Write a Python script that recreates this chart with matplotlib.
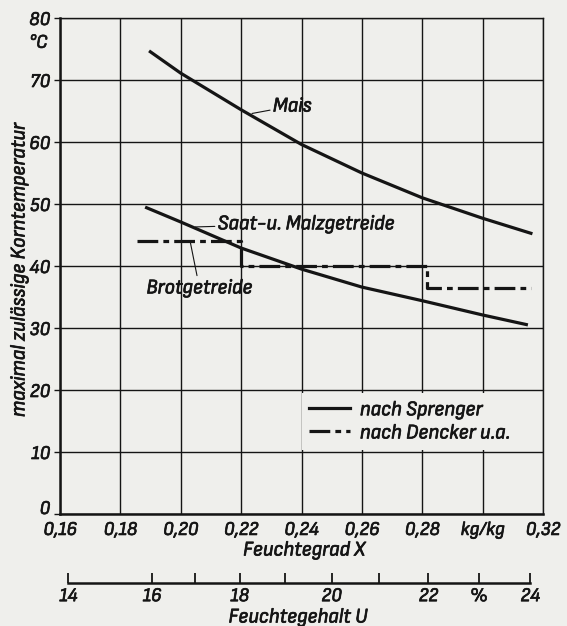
import numpy as np
import matplotlib
matplotlib.use("Agg")
import matplotlib.pyplot as plt
import matplotlib.patheffects as pe
from matplotlib.lines import Line2D
from matplotlib.text import Text

# Werte: Feuchtegrad X (kg/kg) -> max. Korntemperatur (°C)
mais_x = [0.1895, 0.20, 0.22, 0.24, 0.26, 0.28, 0.30, 0.3165]
mais_t = [74.7, 71.1, 65.2, 59.6, 55.0, 51.0, 47.7, 45.2]

brot_x = [0.1882, 0.20, 0.22, 0.24, 0.26, 0.28, 0.30, 0.315]
brot_t = [49.5, 47.1, 42.9, 39.5, 36.6, 34.4, 32.1, 30.5]

# nach Dencker u.a. (Stufenlinie)
dencker_x = [0.1855, 0.22, 0.2815, 0.3159]
dencker_t = [44, 40, 36.5, 36.5]

x_ticks = [0.16, 0.18, 0.20, 0.22, 0.24, 0.26, 0.28, 0.30, 0.32]
x_labels = ["0,16", "0,18", "0,20", "0,22", "0,24", "0,26", "0,28", "kg/kg", "0,32"]
y_ticks = [0, 10, 20, 30, 40, 50, 60, 70, 80]

# Feuchtegehalt U in %
u_ticks = [14, 16, 17, 18, 19, 20, 21, 22, 23, 24]
u_labels = ["14", "16", "", "18", "", "20", "", "22", "%", "24"]

paper = "#efefec"
ink = "#151515"
fam = ["Sofia Sans Semi Condensed", "DejaVu Sans"]
plt.rcParams["font.family"] = fam
plt.rcParams["font.style"] = "italic"
fs = 14
fa = 15

fig = plt.figure(figsize=(5.67, 6.26), dpi=100, facecolor=paper)
ax = fig.add_axes([60 / 567, 1 - 514 / 626, 483 / 567, 496 / 626])
ax.set_facecolor(paper)
ax.set_xlim(0.16, 0.32)
ax.set_ylim(0, 80)

ax.set_xticks(x_ticks)
ax.set_xticklabels(x_labels, fontsize=fs, color=ink)
ax.set_yticks(y_ticks)
ax.set_yticklabels([str(t) for t in y_ticks], fontsize=fs, color=ink)
ax.tick_params(axis="x", length=0, pad=5)
ax.tick_params(axis="y", length=4, width=1.0, color=ink, pad=3)
ax.grid(True, color=ink, lw=1.0)
ax.set_axisbelow(True)
for side in ["top", "right"]:
    ax.spines[side].set_linewidth(1.0)
    ax.spines[side].set_color(ink)
for side in ["left", "bottom"]:
    ax.spines[side].set_linewidth(1.8)
    ax.spines[side].set_color(ink)
# die Null sitzt knapp ueber der Achse
ax.get_yticklabels()[0].set_va("baseline")

ax.annotate("°C", xy=(0, 76), xycoords=("axes fraction", "data"),
            xytext=(-9, 0), textcoords="offset points",
            ha="right", va="center", fontsize=fs, color=ink)

ax.plot(mais_x, mais_t, color=ink, lw=2.3, solid_capstyle="butt")
ax.plot(brot_x, brot_t, color=ink, lw=2.3, solid_capstyle="butt")
dashdot = (0, (6.5, 1.6, 1.8, 1.6))
ax.plot(dencker_x, dencker_t, color=ink, lw=2.3, ls=dashdot,
        drawstyle="steps-post")

lead = dict(arrowstyle="-", color=ink, lw=0.8, shrinkA=0, shrinkB=0)
ax.annotate("Mais", xy=(0.2236, 64.6), xytext=(0.2305, 65.8),
            ha="left", va="center", fontsize=fa, color=ink, arrowprops=lead)
ax.annotate("Saat-u. Malzgetreide", xy=(0.2048, 46.3), xytext=(0.2122, 46.8),
            ha="left", va="center", fontsize=fa, color=ink, arrowprops=lead)
ax.annotate("Brotgetreide", xy=(0.2031, 44), xytext=(0.2062, 38.0),
            ha="center", va="top", fontsize=fa, color=ink, arrowprops=lead)

handles = [Line2D([], [], color=ink, lw=2.3),
           Line2D([], [], color=ink, lw=2.3, ls=dashdot)]
leg = ax.legend(handles, ["nach Sprenger", "nach Dencker u.a."],
                loc="upper left", bbox_to_anchor=(0.500, 0.244),
                fontsize=fa, frameon=True, facecolor=paper, edgecolor="none",
                framealpha=1, fancybox=False, handlelength=2.0,
                handletextpad=0.45, labelspacing=0.2, borderpad=0.35,
                borderaxespad=0)
for t in leg.get_texts():
    t.set_color(ink)

fig.text(304 / 567, 1 - 550 / 626, "Feuchtegrad X", ha="center", va="center",
         fontsize=fa, color=ink)
fig.text(19 / 567, 1 - 270 / 626, "maximal zulässige Korntemperatur",
         rotation=90, ha="center", va="center", fontsize=fa, color=ink)

# zweite Skala: Feuchtegehalt U = X / (1 + X)
ax2 = fig.add_axes([60 / 567, 1 - 583 / 626, 483 / 567, 0.001])
ax2.set_facecolor("none")
ax2.set_xlim(0.16, 0.32)
ax2.set_yticks([])
for side in ["top", "left", "right"]:
    ax2.spines[side].set_visible(False)
u_pos = [u / (100 - u) for u in u_ticks]
ax2.spines["bottom"].set_bounds(u_pos[0], u_pos[-1])
ax2.spines["bottom"].set_linewidth(1.8)
ax2.spines["bottom"].set_color(ink)
ax2.set_xticks(u_pos)
ax2.set_xticklabels(u_labels, fontsize=fs, color=ink)
ax2.tick_params(axis="x", direction="in", length=7, width=1.3, color=ink, pad=3)

fig.text(298 / 567, 1 - 617 / 626, "Feuchtegehalt U", ha="center", va="center",
         fontsize=fa, color=ink)

# Schrift etwas kraeftiger, wie im Druck
for t in fig.findobj(Text):
    t.set_path_effects([pe.withStroke(linewidth=0.5, foreground=ink)])

fig.savefig("out.png", dpi=100, facecolor=paper)
